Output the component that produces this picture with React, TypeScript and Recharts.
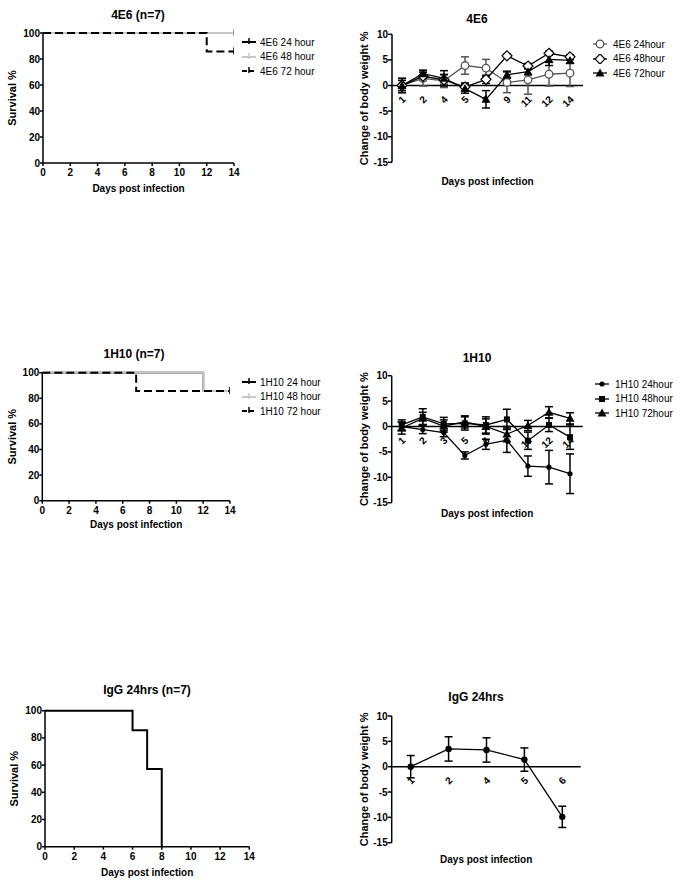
import React from 'react';
import { LineChart, Line, XAxis, YAxis, ErrorBar, ReferenceLine, ReferenceDot } from 'recharts';

const FONT = '"Liberation Sans", Arial, sans-serif';
const GRAY = '#c8c8c8';

// survival axes
const survTicksX = [0, 2, 4, 6, 8, 10, 12, 14];
const survTicksY = [0, 20, 40, 60, 80, 100];
const weightTicksY = [-15, -10, -5, 0, 5, 10];

// 4E6 survival
const e4SurvDays = [0, 12, 14];
const e4Surv24 = [100, 100, 100];
const e4Surv48 = [100, 100, 100];
const e4Surv72 = [100, 85.7, 85.7];

// 1H10 survival
const h1SurvDays = [0, 7, 12, 14];
const h1Surv24 = [100, 100, 85.7, 85.7];
const h1Surv48 = [100, 100, 85.7, 85.7];
const h1Surv72 = [100, 85.7, 85.7, 85.7];

// IgG survival
const iggSurvDays = [0, 6, 7, 8];
const iggSurv = [100, 85.7, 57.1, 0];

// 4E6 body weight
const e4Cats = ['1', '2', '4', '5', '7', '9', '11', '12', '14'];
const e4W24 = [0, 1.4, 0.9, 3.9, 3.4, 0.6, 1.1, 2.2, 2.4];
const e4E24 = [1.4, 1.5, 1.3, 1.7, 1.7, 2.0, 2.8, 2.3, 2.6];
const e4W48 = [0, 1.8, 1.1, -0.3, 1.2, 5.8, 3.8, 6.3, 5.6];
const e4E48 = [1.0, 0.8, 1.0, 0.8, 0.8, 0.3, 0.5, 0.4, 0.4];
const e4W72 = [0, 2.3, 1.4, -0.6, -2.7, 2.1, 2.7, 5.1, 4.9];
const e4E72 = [1.4, 0.7, 1.5, 0.9, 1.7, 0.7, 0.6, 1.2, 0.6];

// 1H10 body weight
const h1Cats = ['1', '2', '3', '5', '6', '9', '11', '12', '14'];
const h1W24 = [0, -0.6, -1.2, -5.7, -3.5, -2.7, -7.8, -8.0, -9.3];
const h1E24 = [0.8, 0.8, 0.8, 0.7, 1.0, 2.4, 2.0, 3.3, 3.9];
const h1W48 = [0.3, 1.9, 0.5, 0.6, 0.3, 1.4, -2.8, 0.3, -2.1];
const h1E48 = [1.0, 1.6, 1.3, 1.3, 1.6, 2.0, 1.7, 1.3, 2.4];
const h1W72 = [-0.3, 1.6, 0.1, 0.9, 0.0, -1.5, 0.2, 2.8, 1.6];
const h1E72 = [1.2, 1.2, 1.2, 1.2, 1.5, 1.5, 1.0, 1.1, 1.1];

// IgG body weight
const iggCats = ['1', '2', '4', '5', '6'];
const iggW = [0, 3.5, 3.3, 1.4, -9.9];
const iggE = [2.2, 2.4, 2.4, 2.3, 2.1];

const axisStyle = { stroke: '#000', strokeWidth: 1.5 };
const tickStyle = { fill: '#000', fontSize: 10, fontWeight: 'bold', fontFamily: FONT };
const xLabelStyle = { fill: '#000', fontSize: 10, fontWeight: 'bold', fontFamily: FONT };
const yLabelStyle = { fill: '#000', fontSize: 11, fontWeight: 'bold', fontFamily: FONT, textAnchor: 'middle' };

type SurvSeries = { key: string; color: string; dash?: string };

// small vertical censor mark at the end of each surviving curve
const censorDot = (len: number) => (p: any) => {
  if (p.index !== len - 1 || !(p.value > 0)) return <g key={`c-${p.index}`} />;
  return (
    <line key={`c-${p.index}`} x1={p.cx} x2={p.cx} y1={p.cy - 4} y2={p.cy + 3}
      stroke={p.stroke} strokeWidth={1.5} />
  );
};

function SurvivalChart({ left, top, width, height, margin, yWidth, xHeight, yLabelOffset, data, series }: any) {
  return (
    <div style={{ position: 'absolute', left, top }}>
      <LineChart width={width} height={height} data={data} margin={margin}>
        <XAxis dataKey="day" type="number" domain={[0, 14]} ticks={survTicksX} interval={0}
          height={xHeight} axisLine={axisStyle} tickLine={axisStyle} tickSize={3} tickMargin={3}
          tick={tickStyle} allowDataOverflow
          label={{ value: 'Days post infection', position: 'insideBottom', offset: 0, style: xLabelStyle }} />
        <YAxis type="number" domain={[0, 100]} ticks={survTicksY} interval={0} width={yWidth}
          axisLine={axisStyle} tickLine={axisStyle} tickSize={3} tickMargin={0} tick={tickStyle}
          label={{ value: 'Survival %', angle: -90, position: 'insideLeft', offset: yLabelOffset, style: yLabelStyle }} />
        {series.map((s: SurvSeries) => (
          <Line key={s.key} type="stepAfter" dataKey={s.key} stroke={s.color} strokeWidth={2}
            strokeDasharray={s.dash} dot={censorDot(data.length)} activeDot={false}
            isAnimationActive={false} />
        ))}
      </LineChart>
    </div>
  );
}

function Marker({ shape, cx, cy, color }: any) {
  if (cx == null || cy == null) return <g />;
  switch (shape) {
    case 'openCircle':
      return <circle cx={cx} cy={cy} r={3.8} fill="#fff" stroke={color} strokeWidth={1.3} />;
    case 'openDiamond':
      return <path d={`M${cx},${cy - 5}L${cx + 5},${cy}L${cx},${cy + 5}L${cx - 5},${cy}Z`}
        fill="#fff" stroke={color} strokeWidth={1.2} />;
    case 'triangle':
      return <path d={`M${cx},${cy - 4.5}L${cx + 4.5},${cy + 3.5}L${cx - 4.5},${cy + 3.5}Z`} fill={color} />;
    case 'square':
      return <rect x={cx - 3} y={cy - 3} width={6} height={6} fill={color} />;
    case 'bigDot':
      return <circle cx={cx} cy={cy} r={3.2} fill={color} />;
    default:
      return <circle cx={cx} cy={cy} r={2.6} fill={color} />;
  }
}

type WSeries = { key: string; err: string; color: string; shape: string };

function CatLabel(props: any) {
  const vb = props.viewBox || {};
  const x = vb.x + (vb.width || 0) / 2 + 2;
  const y = vb.y + (vb.height || 0) / 2 + 12;
  return (
    <text x={x} y={y} dy={3.5} textAnchor="end" transform={`rotate(-45 ${x} ${y})`}
      fill="#000" fontSize={10} fontWeight="bold" fontFamily={FONT}>
      {props.value}
    </text>
  );
}

function WeightChart({ left, top, width, height, margin, yWidth, xHeight, padding, data, cats, series }: any) {
  return (
    <div style={{ position: 'absolute', left, top }}>
      <LineChart width={width} height={height} data={data} margin={margin}>
        <XAxis dataKey="day" type="category" padding={padding} height={xHeight}
          axisLine={false} tickLine={false} tick={false}
          label={{ value: 'Days post infection', position: 'insideBottom', offset: 0, style: xLabelStyle }} />
        <YAxis type="number" domain={[-15, 10]} ticks={weightTicksY} interval={0} width={yWidth}
          axisLine={axisStyle} tickLine={axisStyle} tickSize={4} tickMargin={0} tick={tickStyle}
          allowDataOverflow
          label={{ value: 'Change of body weight %', angle: -90, position: 'insideLeft', offset: 24, style: yLabelStyle }} />
        <ReferenceLine y={0} stroke="#000" strokeWidth={1.5} />
        {cats.map((c: string) => (
          <ReferenceDot key={`t-${c}`} x={c} y={0} r={0} fill="none" stroke="none"
            label={{ value: c, content: CatLabel }} />
        ))}
        {series.map((s: WSeries) => (
          <Line key={s.key} type="linear" dataKey={s.key} stroke={s.color} strokeWidth={1.3}
            activeDot={false} isAnimationActive={false}
            dot={(p: any) => <Marker key={`${s.key}-${p.index}`} shape={s.shape} cx={p.cx} cy={p.cy} color={s.color} />}>
            <ErrorBar dataKey={s.err} direction="y" width={4} stroke={s.color} strokeWidth={1.5} />
          </Line>
        ))}
      </LineChart>
    </div>
  );
}

function Title({ x, y, text }: { x: number; y: number; text: string }) {
  return (
    <div style={{
      position: 'absolute', left: x - 100, top: y - 8, width: 200, textAlign: 'center',
      fontSize: 12, fontWeight: 'bold', lineHeight: '16px', fontFamily: FONT, color: '#000',
    }}>{text}</div>
  );
}

function SurvLegend({ left, top, rows }: any) {
  return (
    <div style={{ position: 'absolute', left, top, fontFamily: FONT, fontSize: 10, color: '#000' }}>
      {rows.map((r: any) => (
        <div key={r.label} style={{ display: 'flex', alignItems: 'center', height: 14.5 }}>
          <svg width={14} height={10}>
            <line x1={0} x2={14} y1={5} y2={5} stroke={r.color} strokeWidth={2} strokeDasharray={r.dash} />
            <line x1={7} x2={7} y1={1} y2={7} stroke={r.color} strokeWidth={1.5} />
          </svg>
          <span style={{ marginLeft: 4, whiteSpace: 'nowrap' }}>{r.label}</span>
        </div>
      ))}
    </div>
  );
}

function WeightLegend({ left, top, rows }: any) {
  return (
    <div style={{ position: 'absolute', left, top, fontFamily: FONT, fontSize: 10, color: '#000' }}>
      {rows.map((r: any) => (
        <div key={r.label} style={{ display: 'flex', alignItems: 'center', height: 14.5 }}>
          <svg width={14} height={10}>
            <line x1={0} x2={14} y1={5} y2={5} stroke={r.color} strokeWidth={1.3} />
            <Marker shape={r.shape} cx={7} cy={5} color={r.color} />
          </svg>
          <span style={{ marginLeft: 6, whiteSpace: 'nowrap' }}>{r.label}</span>
        </div>
      ))}
    </div>
  );
}

const survRows = (days: number[], a: number[], b: number[], c: number[]) =>
  days.map((d, i) => ({ day: d, s24: a[i], s48: b[i], s72: c[i] }));

const weightRows = (cats: string[], cols: Record<string, number[]>) =>
  cats.map((c, i) => {
    const row: any = { day: c };
    Object.keys(cols).forEach((k) => { row[k] = cols[k][i]; });
    return row;
  });

const survSeries: SurvSeries[] = [
  { key: 's24', color: '#000' },
  { key: 's48', color: GRAY },
  { key: 's72', color: '#000', dash: '8 4' },
];

export default function App() {
  const e4Surv = survRows(e4SurvDays, e4Surv24, e4Surv48, e4Surv72);
  const h1Surv = survRows(h1SurvDays, h1Surv24, h1Surv48, h1Surv72);
  const iggSurvData = iggSurvDays.map((d, i) => ({ day: d, s24: iggSurv[i] }));

  const e4Weight = weightRows(e4Cats, { w24: e4W24, e24: e4E24, w48: e4W48, e48: e4E48, w72: e4W72, e72: e4E72 });
  const h1Weight = weightRows(h1Cats, { w24: h1W24, e24: h1E24, w48: h1W48, e48: h1E48, w72: h1W72, e72: h1E72 });
  const iggWeight = weightRows(iggCats, { w24: iggW, e24: iggE });

  const e4Series: WSeries[] = [
    { key: 'w24', err: 'e24', color: '#555', shape: 'openCircle' },
    { key: 'w48', err: 'e48', color: '#000', shape: 'openDiamond' },
    { key: 'w72', err: 'e72', color: '#000', shape: 'triangle' },
  ];
  const h1Series: WSeries[] = [
    { key: 'w24', err: 'e24', color: '#000', shape: 'dot' },
    { key: 'w48', err: 'e48', color: '#000', shape: 'square' },
    { key: 'w72', err: 'e72', color: '#000', shape: 'triangle' },
  ];
  const iggSeries: WSeries[] = [{ key: 'w24', err: 'e24', color: '#000', shape: 'bigDot' }];

  return (
    <div style={{ position: 'absolute', left: 0, top: 0, width: 683, height: 888, background: '#fff', fontFamily: FONT }}>
      {/* row 1: 4E6 */}
      <Title x={138} y={15} text="4E6 (n=7)" />
      <SurvivalChart left={0} top={0} width={340} height={200}
        margin={{ top: 33, right: 106, bottom: 8, left: 0 }} yWidth={43} xHeight={29} yLabelOffset={12.5}
        data={e4Surv} series={survSeries} />
      <SurvLegend left={242} top={34.75} rows={[
        { label: '4E6 24 hour', color: '#000' },
        { label: '4E6 48 hour', color: GRAY },
        { label: '4E6 72 hour', color: '#000', dash: '5 2' },
      ]} />

      <Title x={477} y={19} text="4E6" />
      <WeightChart left={340} top={0} width={343} height={200}
        margin={{ top: 34.3, right: 100, bottom: 14.7, left: 0 }} yWidth={52} xHeight={23}
        padding={{ left: 10, right: 13 }} data={e4Weight} cats={e4Cats} series={e4Series} />
      <WeightLegend left={593} top={36.75} rows={[
        { label: '4E6 24hour', color: '#555', shape: 'openCircle' },
        { label: '4E6 48hour', color: '#000', shape: 'openDiamond' },
        { label: '4E6 72hour', color: '#000', shape: 'triangle' },
      ]} />

      {/* row 2: 1H10 */}
      <Title x={134} y={354} text="1H10 (n=7)" />
      <SurvivalChart left={0} top={330} width={340} height={200}
        margin={{ top: 42.7, right: 110, bottom: 2.3, left: 0 }} yWidth={42.3} xHeight={27} yLabelOffset={12}
        data={h1Surv} series={survSeries} />
      <SurvLegend left={242} top={374.75} rows={[
        { label: '1H10 24 hour', color: '#000' },
        { label: '1H10 48 hour', color: GRAY },
        { label: '1H10 72 hour', color: '#000', dash: '5 2' },
      ]} />

      <Title x={477} y={358} text="1H10" />
      <WeightChart left={340} top={330} width={343} height={200}
        margin={{ top: 45.7, right: 100.3, bottom: 13.3, left: 0 }} yWidth={51.7} xHeight={14}
        padding={{ left: 10, right: 12.7 }} data={h1Weight} cats={h1Cats} series={h1Series} />
      <WeightLegend left={595} top={376.75} rows={[
        { label: '1H10 24hour', color: '#000', shape: 'dot' },
        { label: '1H10 48hour', color: '#000', shape: 'square' },
        { label: '1H10 72hour', color: '#000', shape: 'triangle' },
      ]} />

      {/* row 3: IgG */}
      <Title x={147} y={690} text="IgG 24hrs (n=7)" />
      <SurvivalChart left={0} top={660} width={340} height={228}
        margin={{ top: 50.7, right: 90.7, bottom: 12.3, left: 0 }} yWidth={45} xHeight={29} yLabelOffset={14}
        data={iggSurvData} series={[{ key: 's24', color: '#000' }]} />

      <Title x={476} y={697} text="IgG 24hrs" />
      <WeightChart left={340} top={660} width={343} height={228}
        margin={{ top: 56, right: 102.3, bottom: 25.3, left: 0 }} yWidth={51.7} xHeight={20}
        padding={{ left: 19, right: 18.4 }} data={iggWeight} cats={iggCats} series={iggSeries} />
    </div>
  );
}
